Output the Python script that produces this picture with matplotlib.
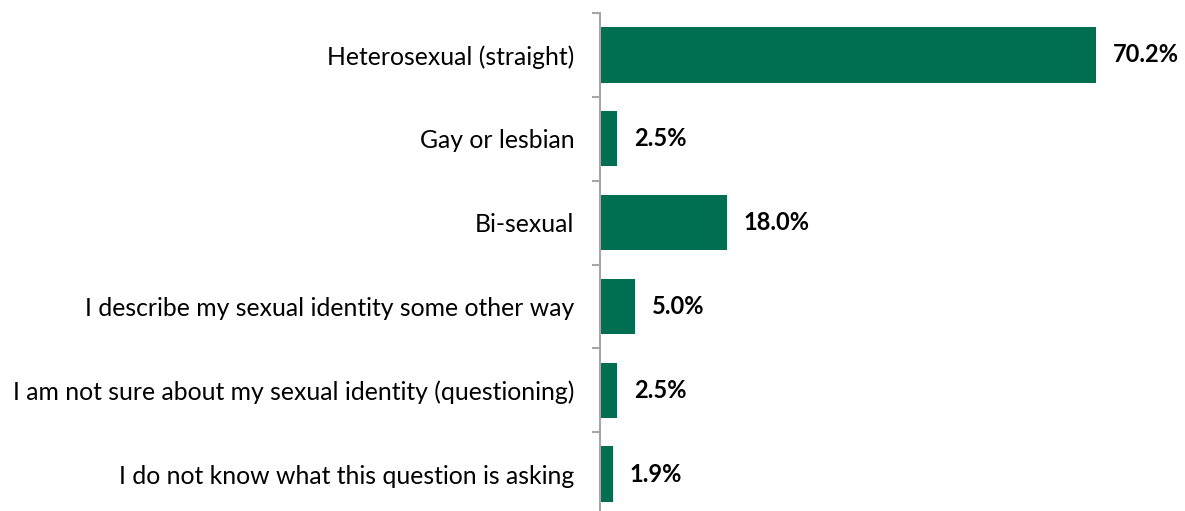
import numpy as np
import matplotlib.pyplot as plt

categories = [
    "Heterosexual (straight)",
    "Gay or lesbian",
    "Bi-sexual",
    "I describe my sexual identity some other way",
    "I am not sure about my sexual identity (questioning)",
    "I do not know what this question is asking",
]
values = [70.2, 2.5, 18.0, 5.0, 2.5, 1.9]

plt.rcParams['font.family'] = ['Lato', 'DejaVu Sans']

fig = plt.figure(figsize=(11.85, 5.11), dpi=100)
ax = fig.add_axes([0.506, -0.0098, 0.494, 0.9843])

y = np.arange(len(categories))
ax.barh(y, values, height=0.66, color='#006f51')
ax.set_ylim(len(categories) - 0.5, -0.5)
ax.set_xlim(0, 82.75)

for yi, v in zip(y, values):
    ax.annotate(f"{v:.1f}%", (v, yi), xytext=(12, 0), textcoords='offset points',
                va='center', ha='left', fontsize=17, fontweight='bold', color='black')

ax.set_yticks(y)
ax.set_yticklabels(categories, fontsize=17.8)
ax.tick_params(axis='y', which='major', length=0, pad=18)
ax.set_yticks(np.arange(-0.5, len(categories)), minor=True)
ax.tick_params(axis='y', which='minor', length=6, color='#a6a6a6', width=1.5)

ax.set_xticks([])
for s in ['top', 'right', 'bottom']:
    ax.spines[s].set_visible(False)
ax.spines['left'].set_color('#a6a6a6')
ax.spines['left'].set_linewidth(1.5)

fig.savefig('out.png', dpi=100)
